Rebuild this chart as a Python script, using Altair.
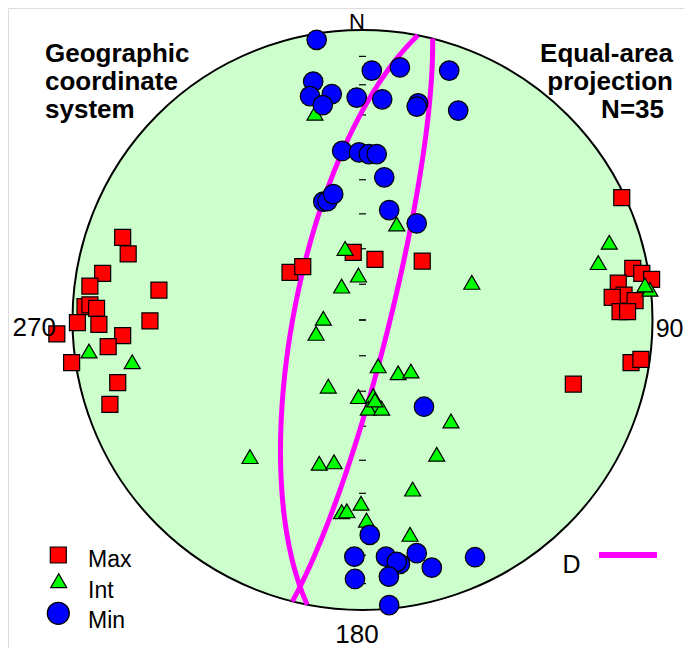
import altair as alt
import numpy as np
import pandas as pd

# ---- data: equal-area projected positions (unit circle), east / north ----
MAX_E = [-0.827, -0.808, -0.896, -0.940, -0.702, -0.957, -0.940, -0.917, -0.983, -0.909,
         -0.733, -1.054, -0.827, -0.877, -1.003, -0.844, -0.871, -0.250, -0.206, -0.032,
         0.043, 0.206, 0.894, 0.932, 0.963, 0.997, 0.882, 0.902, 0.861, 0.940,
         0.888, 0.914, 0.926, 0.960, 0.727]
MAX_N = [0.285, 0.228, 0.161, 0.117, 0.103, 0.046, 0.052, 0.040, -0.009, -0.015,
         -0.003, -0.048, -0.054, -0.092, -0.147, -0.216, -0.291, 0.164, 0.184, 0.233,
         0.209, 0.203, 0.422, 0.178, 0.161, 0.140, 0.127, 0.086, 0.078, 0.067,
         0.029, 0.029, -0.147, -0.136, -0.221]

INT_E = [-0.164, 0.118, 0.851, 0.813, 0.991, -0.943, -0.794, -0.060, -0.014, -0.072,
         0.377, -0.135, -0.160, 0.054, 0.123, 0.167, -0.118, -0.014, 0.037, 0.049,
         0.020, 0.066, 0.305, -0.388, -0.149, -0.098, 0.256, 0.173, -0.005, -0.072,
         -0.054, 0.014, 0.164, 0.043, 0.974]
INT_N = [0.713, 0.331, 0.268, 0.198, 0.106, -0.107, -0.144, 0.247, 0.155, 0.117,
         0.130, 0.006, -0.046, -0.158, -0.182, -0.176, -0.228, -0.264, -0.261, -0.293,
         -0.304, -0.304, -0.348, -0.471, -0.494, -0.489, -0.463, -0.583, -0.632, -0.661,
         -0.658, -0.690, -0.739, -0.276, 0.121]

MIN_E = [-0.158, 0.032, 0.129, 0.299, -0.170, -0.181, -0.106, -0.137, -0.020, 0.068,
         0.192, 0.187, 0.330, -0.070, -0.012, 0.022, 0.049, 0.075, -0.135, -0.121,
         -0.101, 0.092, 0.187, 0.025, -0.028, 0.081, 0.129, 0.118, 0.187, 0.239,
         0.388, -0.026, 0.091, 0.092, 0.212]
MIN_N = [0.966, 0.860, 0.871, 0.860, 0.822, 0.772, 0.779, 0.741, 0.767, 0.761,
         0.747, 0.736, 0.722, 0.583, 0.578, 0.572, 0.572, 0.492, 0.408, 0.410,
         0.434, 0.379, 0.333, -0.741, -0.816, -0.816, -0.841, -0.834, -0.804, -0.854,
         -0.818, -0.893, -0.885, -0.983, -0.299]

# planes "D" (dip direction, dip) drawn as great circles
PLANE_DIPDIR = [281, 104]
PLANE_DIP = [70.7, 82.5]

# plunge ticks along the N-S diameter
TICK_PLUNGES = [10, 20, 30, 40, 50, 60, 70, 80, 90]

# ---- layout ----
W, H = 676, 640
CX, CY, R = 354.5, 312.0, 290.0
xs = alt.Scale(domain=[-CX / R, (W - CX) / R], nice=False, zero=False)
ys = alt.Scale(domain=[(CY - H) / R, CY / R], nice=False, zero=False)
FONT = "Liberation Sans"


def eq_area_r(plunge_deg):
    return np.sqrt(2) * np.sin(np.radians((90 - np.asarray(plunge_deg)) / 2))


# great circles
rows = []
for k, (dd, dip) in enumerate(zip(PLANE_DIPDIR, PLANE_DIP)):
    t = np.linspace(dd - 90, dd + 90, 361)
    p = np.degrees(np.arctan(np.tan(np.radians(dip)) * np.cos(np.radians(t - dd))))
    r = eq_area_r(p)
    for i in range(len(t)):
        rows.append({"plane": k, "i": i,
                     "e": r[i] * np.sin(np.radians(t[i])),
                     "n": r[i] * np.cos(np.radians(t[i]))})
gc_df = pd.DataFrame(rows)

tr = eq_area_r(TICK_PLUNGES)
tick_df = pd.DataFrame({"e": 0.0, "n": np.concatenate([tr, -tr])})

max_df = pd.DataFrame({"e": MAX_E, "n": MAX_N})
int_df = pd.DataFrame({"e": INT_E, "n": INT_N})
min_df = pd.DataFrame({"e": MIN_E, "n": MIN_N})

X = lambda: alt.X("e:Q", scale=xs, axis=None)
Y = lambda: alt.Y("n:Q", scale=ys, axis=None)

primitive = alt.Chart(pd.DataFrame({"e": [0.0], "n": [0.0]})).mark_point(
    shape="circle", size=(2 * R) ** 2, filled=True, fill="#CCFFCC",
    stroke="black", strokeWidth=2, opacity=1
).encode(x=X(), y=Y())

ticks = alt.Chart(tick_df).mark_point(
    shape="stroke", size=49, stroke="black", strokeWidth=1.2, opacity=1
).encode(x=X(), y=Y())

gcs = alt.Chart(gc_df).mark_line(color="#FF00FF", strokeWidth=5).encode(
    x=X(), y=Y(), detail="plane:N", order="i:Q")

sq = alt.Chart(max_df).mark_point(
    shape="square", size=256, filled=True, fill="#FF0000",
    stroke="black", strokeWidth=1.2, opacity=1
).encode(x=X(), y=Y())

tri = alt.Chart(int_df).mark_point(
    shape="triangle-up", size=256, filled=True, fill="#00FF00",
    stroke="black", strokeWidth=1.2, opacity=1
).encode(x=X(), y=Y())

cir = alt.Chart(min_df).mark_point(
    shape="circle", size=380, filled=True, fill="#0000FF",
    stroke="black", strokeWidth=1.2, opacity=1
).encode(x=X(), y=Y())

one = pd.DataFrame({"a": [0]})


def txt(s, x, y, size=26, align="left", bold=False, lh=None):
    kw = dict(font=FONT, fontSize=size, align=align, baseline="alphabetic",
              color="black", fontWeight="bold" if bold else "normal")
    if lh is not None:
        kw["lineHeight"] = lh
    return alt.Chart(one).mark_text(**kw).encode(
        x=alt.value(x), y=alt.value(y), text=alt.value(s))


labels = [
    txt("N", 349, 21, size=22, align="center"),
    txt("270", 4.5, 328),
    txt("90", 675.5, 329, size=25, align="right"),
    txt("180", 349, 635, align="center"),
    txt(["Geographic", "coordinate", "system"], 37, 53.5, bold=True, lh=28.3),
    txt(["Equal-area", "projection"], 665, 53.5, align="right", bold=True, lh=28.3),
    txt("N=35", 656, 110.3, align="right", bold=True),
    txt("Max", 80, 558.5, size=23),
    txt("Int", 80, 590, size=23),
    txt("Min", 80, 619.5, size=23),
    txt("D", 554.5, 564.5, size=25),
]

leg_sq = alt.Chart(one).mark_point(shape="square", size=256, filled=True, fill="#FF0000",
                                   stroke="black", strokeWidth=1.2, opacity=1).encode(
    x=alt.value(50.3), y=alt.value(547))
leg_tri = alt.Chart(one).mark_point(shape="triangle-up", size=256, filled=True, fill="#00FF00",
                                    stroke="black", strokeWidth=1.2, opacity=1).encode(
    x=alt.value(50.7), y=alt.value(572.7))
leg_cir = alt.Chart(one).mark_point(shape="circle", size=484, filled=True, fill="#0000FF",
                                    stroke="black", strokeWidth=1.2, opacity=1).encode(
    x=alt.value(50.3), y=alt.value(605.3))
leg_line = alt.Chart(one).mark_rule(color="#FF00FF", strokeWidth=6).encode(
    x=alt.value(591), x2=alt.value(649), y=alt.value(547))

chart = alt.layer(
    primitive, ticks, gcs, sq, tri, cir,
    leg_sq, leg_tri, leg_cir, leg_line, *labels
).properties(
    width=W, height=H,
    autosize=alt.AutoSizeParams(type="none"),
    padding=0,
).configure_view(stroke=None).configure(background="white")

chart.save("out.html", embed_options={"renderer": "svg", "actions": False})
